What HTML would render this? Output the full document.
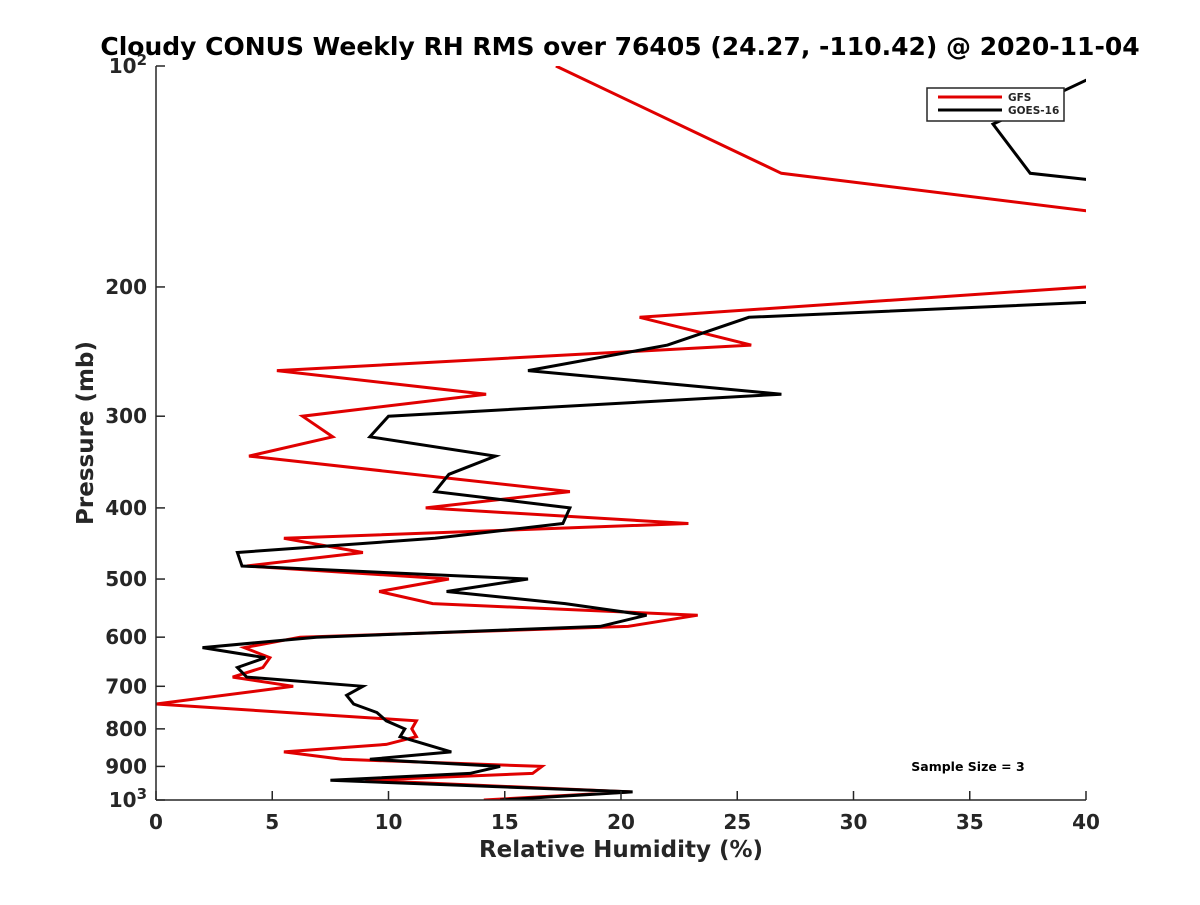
<!DOCTYPE html>
<html><head><meta charset="utf-8"><style>
body{margin:0;background:#fff;}
svg text{font-family:"DejaVu Sans","Liberation Sans",sans-serif;font-weight:bold;fill:#262626;}
</style></head><body>
<svg id="chart" width="1200" height="900" xmlns="http://www.w3.org/2000/svg">
<text x="620" y="55" font-size="25" text-anchor="middle" style="fill:#000">Cloudy CONUS Weekly RH RMS over 76405 (24.27, -110.42) @ 2020-11-04</text>
<defs><clipPath id="plotclip"><rect x="156" y="66" width="930" height="734"/></clipPath></defs>
<g id="lines" clip-path="url(#plotclip)"></g>
<g id="axes"></g>
<g>
<rect x="927" y="88" width="137" height="33" fill="#fff" stroke="#262626" stroke-width="1.5"/>
<line x1="938" y1="97" x2="1002" y2="97" stroke="#e00000" stroke-width="3"/>
<text x="1008" y="101" font-size="10.5">GFS</text>
<line x1="938" y1="110" x2="1002" y2="110" stroke="#000" stroke-width="3"/>
<text x="1008" y="114" font-size="10.5">GOES-16</text>
</g>
<text x="968" y="771" font-size="12.5" text-anchor="middle" style="fill:#000">Sample Size = 3</text>
<text x="621" y="857" font-size="23" text-anchor="middle">Relative Humidity (%)</text>
<text x="0" y="0" font-size="23" text-anchor="middle" transform="translate(93,433) rotate(-90)">Pressure (mb)</text>
</svg>
<script>
const gfsPressure=[100,140,170,190,200,220,240,260,280,300,320,340,380,400,420,440,460,480,500,520,540,560,580,600,620,640,660,680,700,740,780,800,820,840,860,880,900,920,940,975,1000];
const gfsValues=[17.2,26.9,48.5,48,40,20.8,25.6,5.2,14.2,6.3,7.6,4.0,17.8,11.6,22.9,5.5,8.9,3.9,12.6,9.6,11.9,23.3,20.3,6.2,3.8,4.9,4.6,3.3,5.9,0,11.2,11.0,11.2,9.9,5.5,8.0,16.6,16.2,9.0,20.4,14.1];
const goesPressure=[100,120,140,150,200,220,240,260,280,300,320,340,360,380,400,420,440,460,480,500,520,540,560,580,600,620,640,660,680,700,720,740,760,780,800,820,860,880,900,920,940,975,1000];
const goesValues=[41.3,36.0,37.6,46.3,55,25.5,22.0,16.0,26.9,10.0,9.2,14.6,12.6,12.0,17.8,17.5,12.0,3.5,3.7,16.0,12.5,17.6,21.1,19.1,6.9,2.0,4.7,3.5,3.9,8.9,8.2,8.5,9.5,9.9,10.7,10.5,12.7,9.2,14.8,13.5,7.5,20.5,14.8];
const xTicks=[0,5,10,15,20,25,30,35,40];
const yTicks=[100,200,300,400,500,600,700,800,900,1000];
const yTickLabels=["10^2","200","300","400","500","600","700","800","900","10^3"];

const X0=156,X1=1086,Y0=66,Y1=800;
function xs(v){return X0+(v-0)/(40-0)*(X1-X0);}
function ys(p){return Y0+(Math.log10(p)-2)*(Y1-Y0);}
const NS="http://www.w3.org/2000/svg";
const lines=document.getElementById('lines');
function drawSeries(ps,vs,color,name){
  const pl=document.createElementNS(NS,'polyline');
  pl.setAttribute('points',ps.map((p,i)=>xs(vs[i]).toFixed(1)+','+ys(p).toFixed(1)).join(' '));
  pl.setAttribute('fill','none');pl.setAttribute('stroke',color);pl.setAttribute('stroke-width','3');
  
  
  lines.appendChild(pl);
}
drawSeries(gfsPressure,gfsValues,'#e00000','gfs-line');
drawSeries(goesPressure,goesValues,'#000','goes16-line');

const axes=document.getElementById('axes');
function mk(tag,attrs){const e=document.createElementNS(NS,tag);for(const k in attrs)e.setAttribute(k,attrs[k]);return e;}
const xa=mk('line',{x1:X0,y1:Y1,x2:X1,y2:Y1,stroke:'#262626','stroke-width':1.5});


axes.appendChild(xa);
const ya=mk('line',{x1:X0,y1:Y0,x2:X0,y2:Y1,stroke:'#262626','stroke-width':1.5});


axes.appendChild(ya);
xTicks.forEach(t=>{
  const x=xs(t);
  axes.appendChild(mk('line',{x1:x,y1:Y1,x2:x,y2:Y1-9,stroke:'#262626','stroke-width':1.5}));
  const tx=mk('text',{x:x,y:Y1+29,'font-size':20,'text-anchor':'middle'});
  tx.textContent=t;
  
  
  axes.appendChild(tx);
});
yTicks.forEach((t,i)=>{
  const y=ys(t);
  axes.appendChild(mk('line',{x1:X0,y1:y,x2:X0+9,y2:y,stroke:'#262626','stroke-width':1.5}));
  const lab=yTickLabels[i];
  const tx=mk('text',{x:X0-9,y:y+7,'font-size':20,'text-anchor':'end'});
  if(lab.indexOf('^')>=0){
    const parts=lab.split('^');
    const a=document.createElementNS(NS,'tspan');a.textContent=parts[0];
    const b=document.createElementNS(NS,'tspan');b.textContent=parts[1];
    b.setAttribute('dy','-8');b.setAttribute('font-size','15');
    tx.appendChild(a);tx.appendChild(b);
  } else tx.textContent=lab;
  
  
  axes.appendChild(tx);
});
</script>
</body></html>
